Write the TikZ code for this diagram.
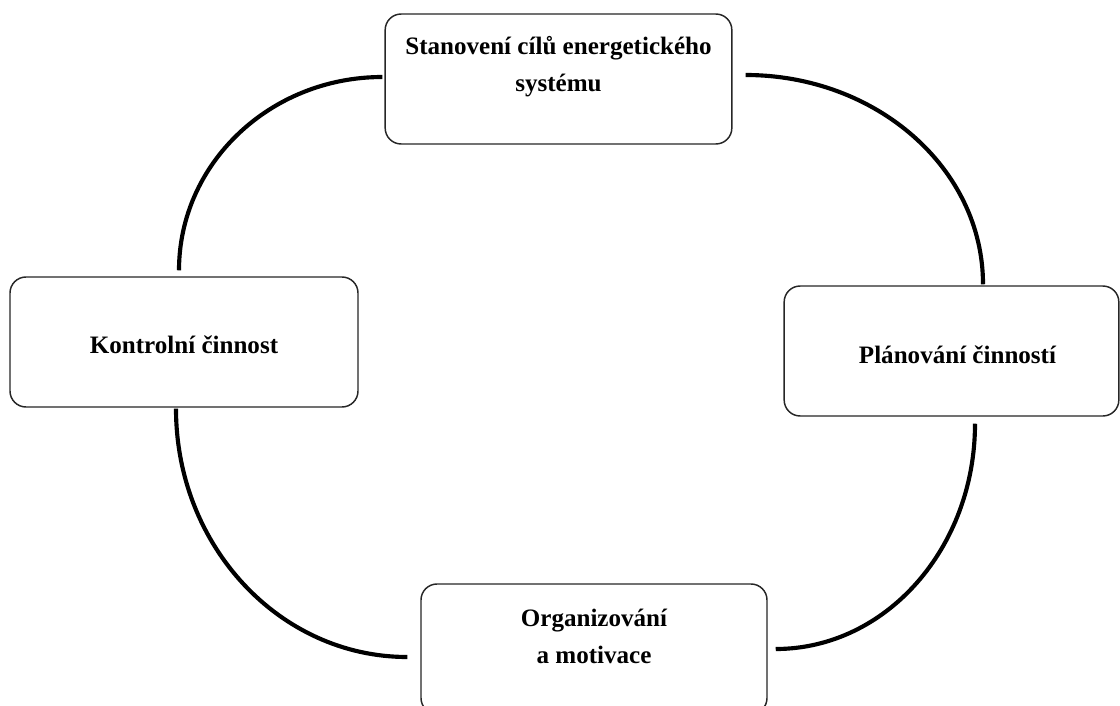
\documentclass[tikz,border=0pt]{standalone}
\usepackage{fontspec}
\setmainfont{Liberation Serif}
\usetikzlibrary{calc}
\begin{document}
\begin{tikzpicture}[x=0.75pt,y=-0.75pt,
  stagebox/.style={draw=black!85, line width=1.1pt, rounded corners=12pt, fill=white,
    inner sep=0pt, minimum height=97.5pt},
  stagetext/.style={font=\fontsize{18.8pt}{27.75pt}\selectfont\bfseries, align=center, text=black},
  cycleline/.style={line width=3.1pt, line cap=butt}]
\useasboundingbox (0,0) rectangle (1120,706);
\clip (0,0) rectangle (1120,706);
% boxes
\node[stagebox, minimum width=260pt,
  label={[stagetext, yshift=9.4pt]center:Stanovení cílů energetického\\systému}]
  (goals) at (558.5,79) {};
\node[stagebox, minimum width=261pt,
  label={[stagetext, yshift=-2pt]center:Kontrolní činnost}]
  (control) at (184,342) {};
\node[stagebox, minimum width=251pt,
  label={[stagetext, xshift=4.5pt, yshift=-3pt]center:Plánování činností}]
  (plan) at (951.5,351) {};
\node[stagebox, minimum width=259.5pt,
  label={[stagetext, yshift=9.4pt]center:Organizování\\a motivace}]
  (org) at (594,649) {};
% connector end points
\coordinate (a1) at ($(goals.west)+(-2,-2)$);
\coordinate (b1) at ($(control.north)+(-5,-6)$);
\coordinate (a2) at ($(goals.east)+(13,-4)$);
\coordinate (b2) at ($(plan.north)+(31.5,-1)$);
\coordinate (a3) at ($(plan.south)+(23.5,7)$);
\coordinate (b3) at ($(org.east)+(8,0)$);
\coordinate (a4) at ($(control.south)+(-8,1)$);
\coordinate (b4) at ($(org.west)+(-13,8)$);
% quarter-ellipse connectors
\draw[cycleline] (a1) .. controls ($(a1)!0.5523!(b1|-a1)$) and ($(b1)!0.5523!(b1|-a1)$) .. (b1);
\draw[cycleline] (a2) .. controls ($(a2)!0.5523!(b2|-a2)$) and ($(b2)!0.5523!(b2|-a2)$) .. (b2);
\draw[cycleline] (a3) .. controls ($(a3)!0.5523!(a3|-b3)$) and ($(b3)!0.5523!(a3|-b3)$) .. (b3);
\draw[cycleline] (a4) .. controls ($(a4)!0.5523!(a4|-b4)$) and ($(b4)!0.5523!(a4|-b4)$) .. (b4);
\end{tikzpicture}
\end{document}
